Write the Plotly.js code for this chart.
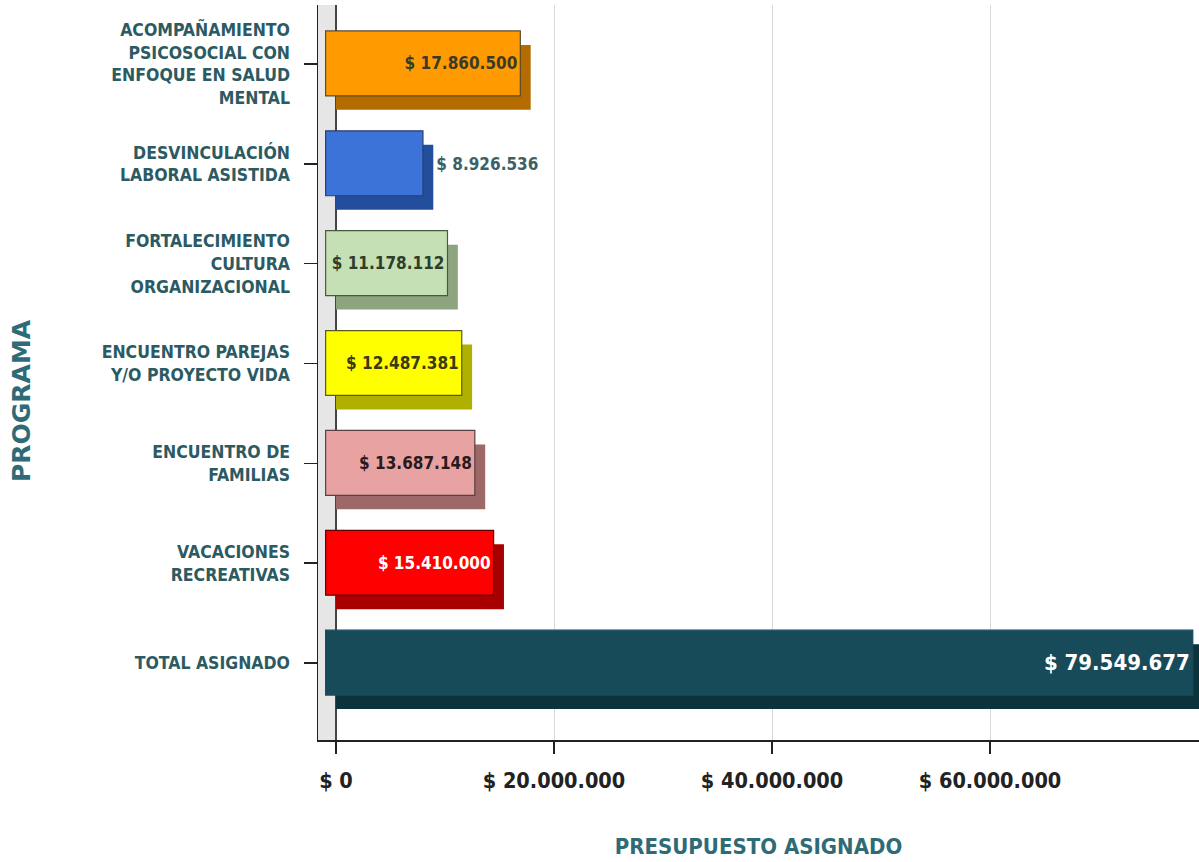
<!DOCTYPE html>
<html>
<head>
<meta charset="utf-8">
<script src="https://cdn.plot.ly/plotly-3.0.1.min.js"></script>
<style>html,body{margin:0;padding:0;background:#fff;}#chart{width:1199px;height:862px;}</style>
</head>
<body>
<div id="chart"></div>
<script>
// Data (top to bottom)
const categories = [
  "ACOMPAÑAMIENTO<br>PSICOSOCIAL CON<br>ENFOQUE EN SALUD<br>MENTAL",
  "DESVINCULACIÓN<br>LABORAL ASISTIDA",
  "FORTALECIMIENTO<br>CULTURA<br>ORGANIZACIONAL",
  "ENCUENTRO PAREJAS<br>Y/O PROYECTO VIDA",
  "ENCUENTRO DE<br>FAMILIAS",
  "VACACIONES<br>RECREATIVAS",
  "TOTAL ASIGNADO"
];
const values = [17860500, 8926536, 11178112, 12487381, 13687148, 15410000, 79549677];
const valueLabels = ["$ 17.860.500", "$ 8.926.536", "$ 11.178.112", "$ 12.487.381", "$ 13.687.148", "$ 15.410.000", "$ 79.549.677"];
const labelOutside = [false, true, false, false, false, false, false];
const tickValues = [0, 20000000, 40000000, 60000000];
const tickLabels = ["$ 0", "$ 20.000.000", "$ 40.000.000", "$ 60.000.000"];

// Styles
const frontColors = ["#ff9a00", "#3b73d8", "#c6e0b5", "#ffff00", "#e9a2a2", "#ff0000", "#184b5a"];
const depthColors = ["#b46c00", "#234e9c", "#8ea47f", "#b0b000", "#9c6868", "#a80000", "#0c323c"];
const textColors = ["#3a3a2a", "#3e5f66", "#2e3e2a", "#3a3a10", "#2a1a1a", "#ffffff", "#ffffff"];
const textSizes = [17, 17, 17, 17, 17, 17, 22];
const lineColors = ["#5a4a30", "#2a3f70", "#4a5a40", "#5a5a20", "#5a4040", "#600000", "#184b5a"];
const shift = 950000;
const valueFont = "'Liberation Sans Narrow', 'DejaVu Sans Condensed', sans-serif";

const insideText = valueLabels.map((t, i) => labelOutside[i] ? "" : t);
const outsideText = valueLabels.map((t, i) => labelOutside[i] ? t : "");

const depth = {
  type: "bar", orientation: "h",
  y: categories, x: values,
  width: 0.65, offset: -0.19,
  marker: {color: depthColors, line: {width: 0}},
  hoverinfo: "skip", showlegend: false
};
const front = {
  type: "bar", orientation: "h",
  y: categories, x: values, base: -shift,
  width: 0.65, offset: -0.33,
  marker: {color: frontColors, line: {color: lineColors, width: 1.2}},
  text: insideText, textposition: "inside", insidetextanchor: "end",
  constraintext: "none",
  insidetextfont: {family: valueFont, size: textSizes, color: textColors, weight: "bold"},
  showlegend: false
};
const outsideLabels = {
  type: "bar", orientation: "h",
  y: categories, x: values,
  width: 0.65,
  marker: {color: "rgba(0,0,0,0)", line: {width: 0}},
  text: outsideText, textposition: "outside", cliponaxis: false,
  outsidetextfont: {family: valueFont, size: 17, color: "#3e5f66", weight: "bold"},
  hoverinfo: "skip", showlegend: false
};

const layout = {
  width: 1199, height: 862,
  margin: {l: 318, r: 0, t: 5, b: 122},
  paper_bgcolor: "#ffffff", plot_bgcolor: "#ffffff",
  barmode: "overlay",
  xaxis: {
    range: [-1650000, 79170000],
    tickvals: tickValues, ticktext: tickLabels,
    showgrid: true, gridcolor: "#d9d9d9", gridwidth: 1,
    zeroline: true, zerolinecolor: "#444", zerolinewidth: 1.5,
    showline: true, linecolor: "#222", linewidth: 1.5,
    ticks: "outside", ticklen: 12, tickcolor: "#222", tickwidth: 1.5,
    ticklabelstandoff: 9,
    tickfont: {family: "'DejaVu Sans Condensed', 'DejaVu Sans', sans-serif", size: 21.5, color: "#222", weight: "bold"},
    title: {text: "PRESUPUESTO ASIGNADO", standoff: 46,
      font: {family: "'DejaVu Sans Condensed', 'DejaVu Sans', sans-serif", size: 22, color: "#2f6b77", weight: "bold"}}
  },
  yaxis: {
    type: "category",
    categoryorder: "array", categoryarray: categories,
    range: [6.77, -0.59],
    showgrid: false, zeroline: false,
    showline: true, linecolor: "#222", linewidth: 1.5,
    ticks: "outside", ticklen: 13, tickcolor: "#222", tickwidth: 1.5,
    ticklabelstandoff: 10,
    tickfont: {family: "'DejaVu Sans Condensed', 'DejaVu Sans', sans-serif", size: 17.5, color: "#2c5a62", weight: "bold"}
  },
  annotations: [{
    text: "PROGRAMA", textangle: -90, showarrow: false,
    xref: "paper", yref: "paper", x: -0.336, y: 0.4626,
    xanchor: "center", yanchor: "middle",
    font: {family: "'DejaVu Sans', sans-serif", size: 25, color: "#2f6b77", weight: "bold"}
  }],
  shapes: [{
    type: "rect", xref: "x", yref: "paper",
    x0: -1650000, x1: 0, y0: 0, y1: 1,
    fillcolor: "#e6e6e6", line: {width: 0}, layer: "below"
  }],
  font: {family: "'DejaVu Sans', sans-serif"}
};

Plotly.newPlot("chart", [depth, front, outsideLabels], layout, {displayModeBar: false, staticPlot: true});
</script>
</body>
</html>
